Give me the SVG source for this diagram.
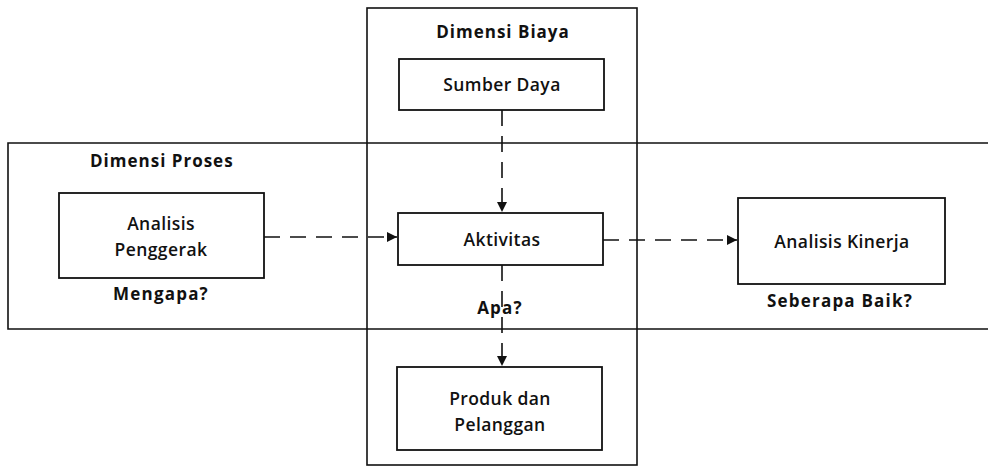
<svg xmlns="http://www.w3.org/2000/svg" width="988" height="468" viewBox="0 0 988 468">
  <style>
    .frame { fill: none; stroke: #111; stroke-width: 1.6; }
    .box { fill: #fff; stroke: #111; stroke-width: 1.8; }
    .lbl { font-family: "Open Sans", "Liberation Sans", sans-serif; font-size: 17.5px; font-weight: 600; fill: #111; text-anchor: middle; letter-spacing: 0.4px; }
    .hd { font-family: "Open Sans", "Liberation Sans", sans-serif; font-size: 17px; font-weight: 700; fill: #111; letter-spacing: 1px; }
    .q { font-family: "Open Sans", "Liberation Sans", sans-serif; font-size: 17px; font-weight: 700; fill: #111; text-anchor: middle; letter-spacing: 1.2px; }
    .conn { fill: none; stroke: #111; stroke-width: 1.6; stroke-dasharray: 16 10; }
  </style>
  <defs>
    <marker id="arrow" viewBox="0 0 10 10" refX="10" refY="5" markerWidth="11" markerHeight="10" orient="auto" markerUnits="userSpaceOnUse">
      <path d="M0,0 L10,5 L0,10 z" fill="#111"/>
    </marker>
  </defs>

  <rect width="988" height="468" fill="#fff"/>

  <!-- dimension frames -->
  <g id="dimensi-proses">
    <path class="frame" d="M992,143 L8,143 L8,329 L992,329"/>
    <text class="hd" x="90" y="167">Dimensi Proses</text>
  </g>
  <g id="dimensi-biaya">
    <rect class="frame" x="367" y="8" width="270" height="457"/>
    <text class="hd" x="503" y="38" text-anchor="middle">Dimensi Biaya</text>
  </g>

  <!-- connectors -->
  <g id="connectors">
    <line class="conn" x1="502" y1="110" x2="502" y2="212" marker-end="url(#arrow)"/>
    <line class="conn" x1="264" y1="237" x2="397" y2="237" marker-end="url(#arrow)"/>
    <line class="conn" x1="603" y1="240" x2="737" y2="240" marker-end="url(#arrow)"/>
    <line class="conn" x1="502" y1="265" x2="502" y2="366" stroke-dasharray="26 6" marker-end="url(#arrow)"/>
  </g>

  <!-- nodes -->
  <g id="sumber-daya">
    <rect class="box" x="399" y="59" width="205" height="51"/>
    <text class="lbl" x="502" y="91">Sumber Daya</text>
  </g>
  <g id="analisis-penggerak">
    <rect class="box" x="59" y="193" width="205" height="85"/>
    <text class="lbl" x="161" y="230">Analisis</text>
    <text class="lbl" x="161" y="256">Penggerak</text>
    <text class="q" x="161" y="300">Mengapa?</text>
  </g>
  <g id="aktivitas">
    <rect class="box" x="398" y="213" width="205" height="52"/>
    <text class="lbl" x="502" y="246">Aktivitas</text>
    <text class="q" x="500" y="314">Apa?</text>
  </g>
  <g id="analisis-kinerja">
    <rect class="box" x="738" y="198" width="207" height="86"/>
    <text class="lbl" x="842" y="248">Analisis Kinerja</text>
    <text class="q" x="840" y="307">Seberapa Baik?</text>
  </g>
  <g id="produk-pelanggan">
    <rect class="box" x="397" y="367" width="205" height="83"/>
    <text class="lbl" x="500" y="405">Produk dan</text>
    <text class="lbl" x="500" y="431">Pelanggan</text>
  </g>
</svg>
